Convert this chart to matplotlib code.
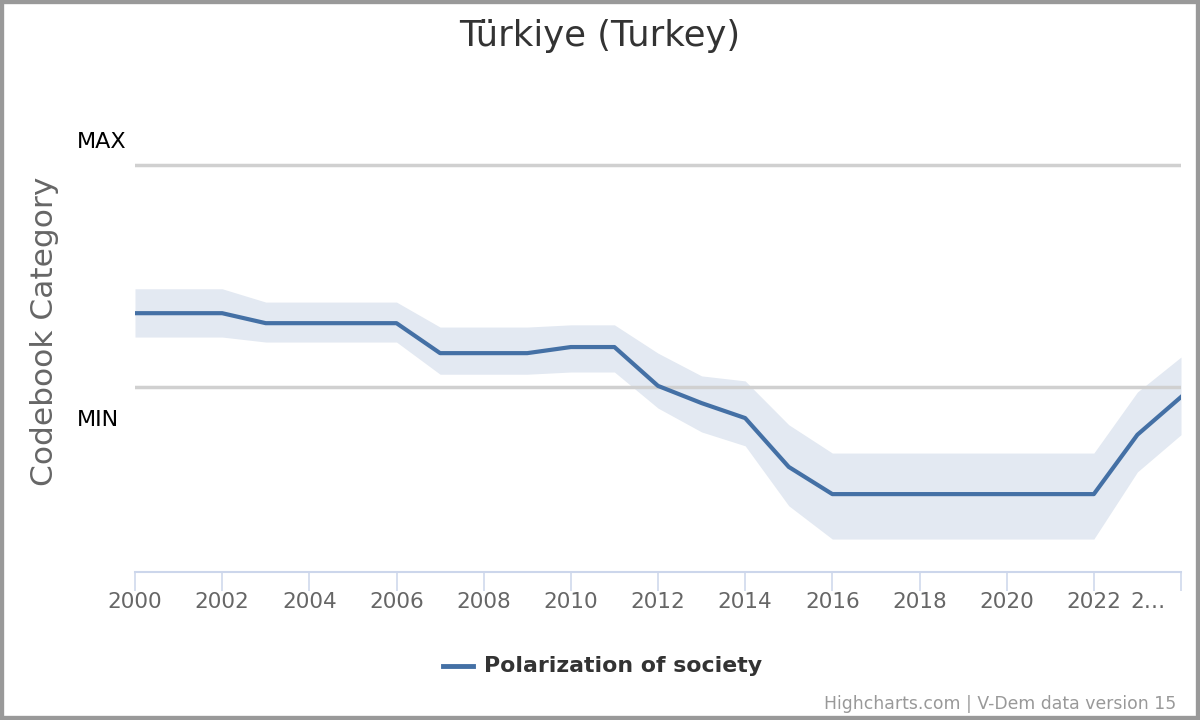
import matplotlib
matplotlib.use("Agg")
import matplotlib.pyplot as plt
from matplotlib.patches import Rectangle
from matplotlib.lines import Line2D
from matplotlib.transforms import ScaledTranslation

years = list(range(2000, 2025))
# V-Dem "Polarization of society" (scale where MIN = 0, MAX = 4)
point = [1.33, 1.33, 1.33, 1.15, 1.15, 1.15, 1.15, 0.61, 0.61, 0.61, 0.72, 0.72,
         0.02, -0.29, -0.56, -1.44, -1.93, -1.93, -1.93, -1.93, -1.93, -1.93, -1.93,
         -0.86, -0.18]
upper = [1.77, 1.77, 1.77, 1.53, 1.53, 1.53, 1.53, 1.08, 1.08, 1.08, 1.12, 1.12,
         0.61, 0.20, 0.11, -0.68, -1.19, -1.19, -1.19, -1.19, -1.19, -1.19, -1.19,
         -0.09, 0.54]
lower = [0.90, 0.90, 0.90, 0.81, 0.81, 0.81, 0.81, 0.23, 0.23, 0.23, 0.27, 0.27,
         -0.38, -0.81, -1.06, -2.14, -2.74, -2.74, -2.74, -2.74, -2.74, -2.74, -2.74,
         -1.53, -0.86]
tick_years = list(range(2000, 2025, 2))
tick_labels = [str(y) for y in range(2000, 2024, 2)] + ["2…"]
y_levels = [0, 4]
y_level_labels = ["MIN", "MAX"]

plt.rcParams['font.family'] = ['DejaVu Sans']
W, H = 1200, 720
fig = plt.figure(figsize=(12, 7.2), dpi=100)
fig.patch.set_facecolor("white")

left, right, bottom_px, top_px = 135, 1181, 572, 130
ax = fig.add_axes([left / W, 1 - bottom_px / H, (right - left) / W, (bottom_px - top_px) / H])
ax.set_xlim(2000, 2024)
# pixel mapping: MIN at 387px, MAX at 165px
per_px = 4 / (387 - 165)
ax.set_ylim(-(bottom_px - 387) * per_px, (387 - top_px) * per_px)

for s in ax.spines.values():
    s.set_visible(False)
ax.spines['bottom'].set_visible(True)
ax.spines['bottom'].set_color("#ccd6eb")
ax.spines['bottom'].set_linewidth(1.5)

for lv in y_levels:
    ax.axhline(lv, color="#d0d0d0", lw=2.5, zorder=3)

ax.fill_between(years, lower, upper, color="#e3e9f2", lw=0, zorder=1)
ax.plot(years, point, color="#4470a5", lw=3, zorder=4, solid_joinstyle="round")

ax.set_yticks([])
ax.set_xticks(tick_years)
ax.set_xticklabels(tick_labels)
ax.tick_params(axis='x', length=14, width=1.1, color="#ccd6eb", labelcolor="#666666",
               labelsize=15.5, pad=0.5)
last = ax.get_xticklabels()[-1]
last.set_transform(last.get_transform() + ScaledTranslation(-33 / 100, 0, fig.dpi_scale_trans))

# y level labels
for lv, lab in zip(y_levels, y_level_labels):
    py = 142 if lab == "MAX" else 420
    fig.text(77 / W, 1 - py / H, lab, fontsize=16, color="black", ha="left", va="center")

fig.text(45 / W, 1 - 331 / H, "Codebook Category", fontsize=22.5, color="#666666",
         rotation=90, ha="center", va="center")

fig.text(600 / W, 1 - 36 / H, "Türkiye (Turkey)", fontsize=25.5, color="#333333",
         ha="center", va="center")

# legend
fig.add_artist(Line2D([443 / W, 473 / W], [1 - 666 / H, 1 - 666 / H], color="#4470a5", lw=3.5))
fig.text(484 / W, 1 - 666 / H, "Polarization of society", fontsize=15.8, fontweight="bold",
         color="#333333", ha="left", va="center")

fig.text(1176 / W, 1 - 704 / H, "Highcharts.com | V-Dem data version 15", fontsize=12.4,
         color="#999999", ha="right", va="center")

fig.add_artist(Rectangle((0, 0), 1, 1, transform=fig.transFigure, fill=False,
                         edgecolor="#999999", lw=6))

fig.savefig("out.png", dpi=100)
